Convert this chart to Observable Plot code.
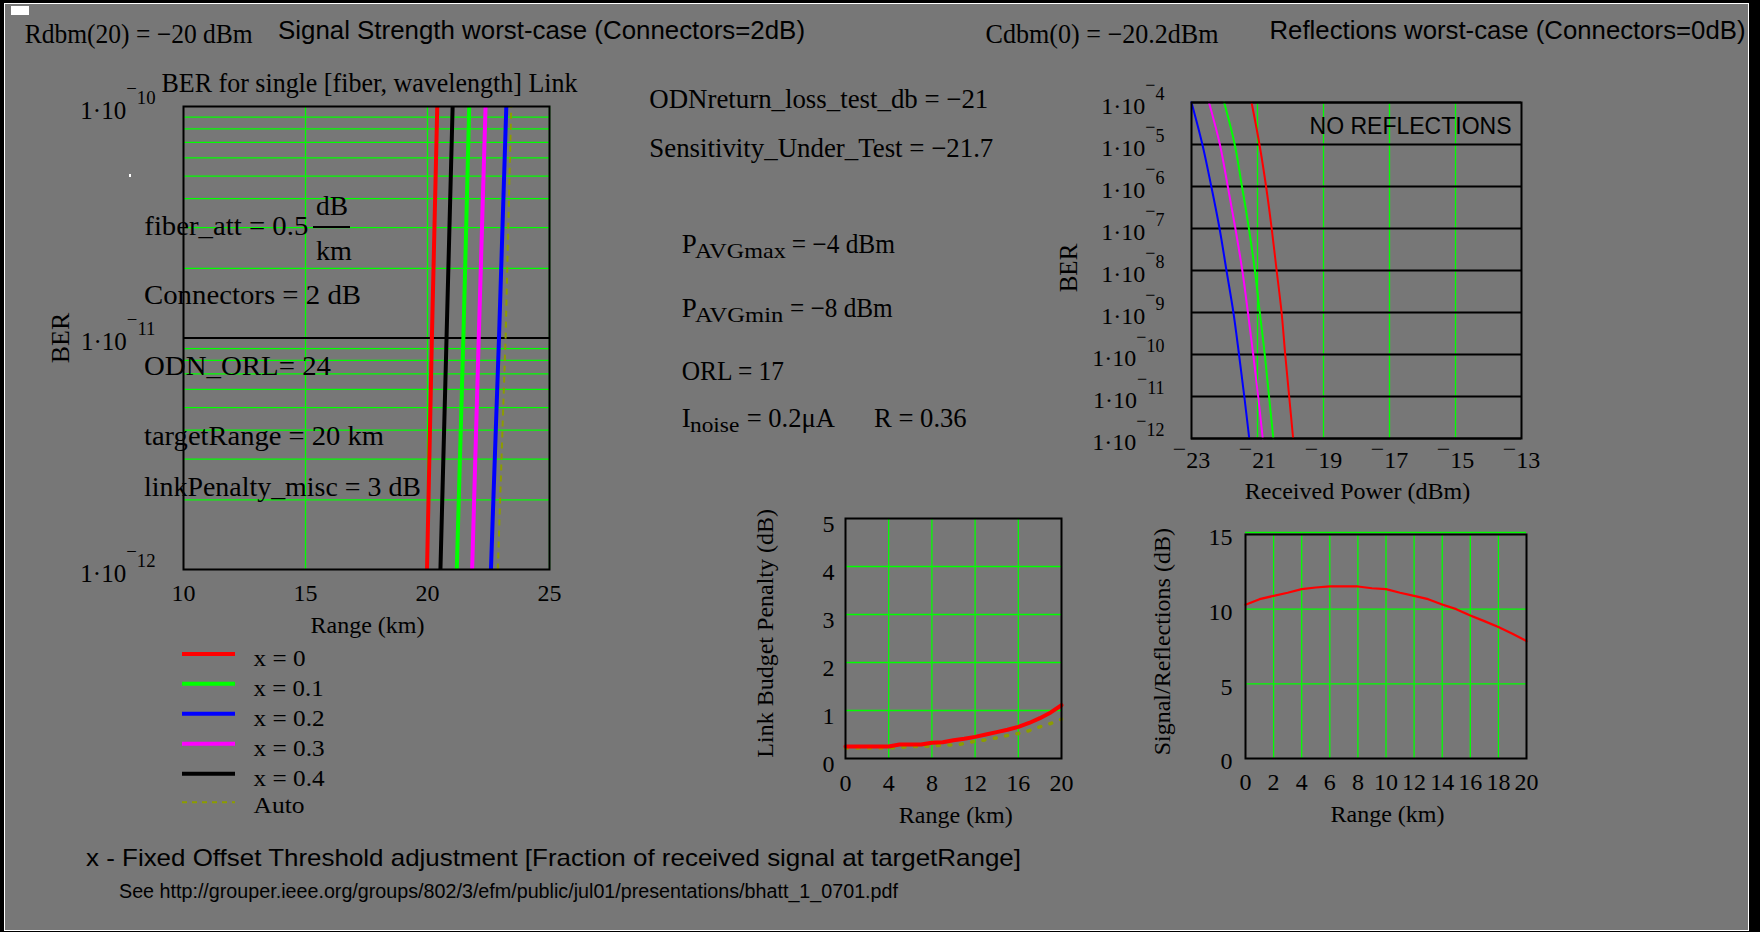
<!DOCTYPE html>
<html>
<head>
<meta charset="utf-8">
<script src="https://cdn.jsdelivr.net/npm/d3@7"></script>
<script src="https://cdn.jsdelivr.net/npm/@observablehq/plot@0.6"></script>
<style>
html, body { margin: 0; padding: 0; background: #000; width: 1760px; height: 932px; overflow: hidden; }
#page { position: absolute; left: 4px; top: 3px; width: 1745px; height: 928px; box-sizing: border-box; border: 1px solid #fff; background: #777777; }
.chart { position: absolute; }
.chart svg { display: block; overflow: visible; }
#overlay { position: absolute; left: 0; top: 0; }
</style>
</head>
<body>
<div id="page"></div>
<div id="c1" class="chart" style="left:40px;top:60px;width:540px;height:580px"></div>
<div id="c2" class="chart" style="left:1040px;top:80px;width:520px;height:420px"></div>
<div id="c3" class="chart" style="left:740px;top:490px;width:340px;height:350px"></div>
<div id="c4" class="chart" style="left:1140px;top:500px;width:420px;height:340px"></div>
<svg id="overlay" width="1760" height="932"></svg>
<script>
// ---------------- DATA ----------------
// Chart 1: BER for single [fiber, wavelength] link vs range (km)
const seriesNames = ["x = 0", "x = 0.1", "x = 0.2", "x = 0.3", "x = 0.4", "Auto"];
const berLevels = [1e-12, 1e-11, 1e-10];
const rangeX00 = [19.98, 20.18, 20.40];
const rangeX01 = [21.20, 21.47, 21.71];
const rangeX02 = [22.60, 22.93, 23.23];
const rangeX03 = [21.83, 22.10, 22.38];
const rangeX04 = [20.53, 20.78, 21.03];
const rangeAuto = [22.88, 23.20, 23.43];
const rangeTicks = [10, 15, 20, 25];
const rangeGrid = [15, 20, 25];
const berMinorGrid = [2e-12, 3e-12, 4e-12, 5e-12, 6e-12, 7e-12, 8e-12, 9e-12,
                      2e-11, 3e-11, 4e-11, 5e-11, 6e-11, 7e-11, 8e-11, 9e-11];
const berMajorGrid = [1e-11];

// Chart 2: BER vs received power (dBm), no reflections
const berDecades = [1e-4, 1e-5, 1e-6, 1e-7, 1e-8, 1e-9, 1e-10, 1e-11, 1e-12];
const powerX02 = [-23.00, -22.67, -22.40, -22.15, -21.94, -21.73, -21.56, -21.40, -21.25];
const powerX03 = [-22.47, -22.14, -21.90, -21.67, -21.46, -21.29, -21.13, -20.98, -20.84];
const powerX01 = [-22.01, -21.69, -21.47, -21.26, -21.08, -20.93, -20.78, -20.65, -20.52];
const powerX00 = [-21.18, -20.94, -20.74, -20.57, -20.42, -20.27, -20.16, -20.04, -19.92];
const powerTicks = [-23, -21, -19, -17, -15, -13];
const powerGrid = [-21, -19, -17, -15];

// Chart 3: Link budget penalty (dB) vs range (km)
const rangeKm = [0, 1, 2, 3, 4, 5, 6, 7, 8, 9, 10, 11, 12, 13, 14, 15, 16, 17, 18, 19, 20];
const penaltyX00 = [0.25, 0.25, 0.25, 0.25, 0.25, 0.29, 0.29, 0.29, 0.33, 0.34, 0.38, 0.41, 0.45, 0.50, 0.55, 0.60, 0.66, 0.74, 0.84, 0.96, 1.11];
const penaltyAuto = [0.22, 0.22, 0.22, 0.22, 0.22, 0.23, 0.25, 0.25, 0.26, 0.28, 0.28, 0.31, 0.36, 0.39, 0.43, 0.48, 0.52, 0.58, 0.66, 0.73, 0.82];
const penaltyXTicks = [0, 4, 8, 12, 16, 20];
const penaltyYTicks = [0, 1, 2, 3, 4, 5];

// Chart 4: Signal/Reflections (dB) vs range (km)
const signalRefl = [10.29, 10.67, 10.89, 11.10, 11.34, 11.45, 11.52, 11.52, 11.52, 11.40, 11.34, 11.10, 10.89, 10.67, 10.31, 10.00, 9.58, 9.20, 8.80, 8.35, 7.86];
const srXTicks = [0, 2, 4, 6, 8, 10, 12, 14, 16, 18, 20];
const srYTicks = [0, 5, 10, 15];

// ---------------- STYLE ----------------
const serif = "'Liberation Serif','Times New Roman',serif";
const sans = "'Liberation Sans',Arial,sans-serif";
const GRID = "#00ff00";
const OLIVE = "#8c9c00";
const colorX00 = "#ff0000", colorX01 = "#00ff00", colorX02 = "#0000ff", colorX03 = "#ff00ff", colorX04 = "#000000";
const baseStyle = (fs) => ({background: "transparent", color: "#000", fontFamily: serif, fontSize: fs + "px", overflow: "visible"});

function expLabel(d) {
  const e = Math.round(Math.log10(d));
  return "1·10^" + (e < 0 ? "−" + (-e) : String(e));
}
function negLabel(d) { return d < 0 ? "−" + (-d) : String(d); }

function fixTicks(svg, F) {
  d3.select(svg).selectAll("g[aria-label$='tick label'] text").each(function () {
    const s = this.textContent;
    const sel = d3.select(this);
    if (s.includes("^")) {
      const [b, e] = s.split("^");
      sel.text(null);
      sel.append("tspan").text(b);
      const es = 0.75 * F;
      if (e.startsWith("−")) {
        sel.append("tspan").attr("font-size", es).attr("dy", -0.95 * F).text("−");
        sel.append("tspan").attr("font-size", es).attr("dy", 0.35 * F).text(e.slice(1));
      } else {
        sel.append("tspan").attr("font-size", es).attr("dy", -0.6 * F).text(e);
      }
    } else if (s.startsWith("−")) {
      sel.text(null);
      sel.append("tspan").attr("dy", -0.42 * F).text("−");
      sel.append("tspan").attr("dy", 0.42 * F).text(s.slice(1));
    }
  });
}

// ---------------- CHART 1 ----------------
const c1Series = [
  {v: rangeX00, c: colorX00, w: 4},
  {v: rangeX01, c: colorX01, w: 4},
  {v: rangeX02, c: colorX02, w: 4},
  {v: rangeX03, c: colorX03, w: 4},
  {v: rangeX04, c: colorX04, w: 4},
  {v: rangeAuto, c: OLIVE, w: 2, dash: "6,5"}
];
const c1 = Plot.plot({
  width: 540, height: 580,
  marginLeft: 143, marginTop: 46, marginRight: 31, marginBottom: 71,
  style: baseStyle(25),
  x: {domain: [10, 25]},
  y: {type: "log", domain: [1e-12, 1e-10]},
  marks: [
    Plot.ruleY(berMinorGrid, {stroke: GRID, strokeWidth: 1.3}),
    Plot.ruleX(rangeGrid, {stroke: GRID, strokeWidth: 1.3}),
    Plot.ruleY(berMajorGrid, {stroke: "#000", strokeWidth: 2}),
    ...c1Series.map(s => Plot.line(berLevels, {
      x: (d, i) => s.v[i], y: d => d, stroke: s.c, strokeWidth: s.w,
      strokeDasharray: s.dash, strokeLinecap: "butt"
    })),
    Plot.frame({stroke: "#000", strokeWidth: 2}),
    Plot.axisX({ticks: rangeTicks, tickSize: 0, tickPadding: 14, tickFormat: d => String(d), fontSize: 24, label: null}),
    Plot.axisY({ticks: berLevels, tickSize: 0, tickPadding: 28, dy: 4, tickFormat: expLabel, fontSize: 25, label: null})
  ]
});
fixTicks(c1, 25);
document.getElementById("c1").append(c1);

// ---------------- CHART 2 ----------------
const c2Series = [
  {v: powerX02, c: colorX02},
  {v: powerX03, c: colorX03},
  {v: powerX01, c: colorX01},
  {v: powerX00, c: colorX00}
];
const c2 = Plot.plot({
  width: 520, height: 420,
  marginLeft: 151, marginTop: 22, marginRight: 39, marginBottom: 62,
  style: baseStyle(24),
  x: {domain: [-23, -13]},
  y: {type: "log", domain: [1e-12, 1e-4]},
  marks: [
    Plot.ruleX(powerGrid, {stroke: GRID, strokeWidth: 1.3}),
    Plot.ruleY(berDecades, {stroke: "#000", strokeWidth: 2}),
    ...c2Series.map(s => Plot.line(berDecades, {
      x: (d, i) => s.v[i], y: d => d, stroke: s.c, strokeWidth: 2, curve: "catmull-rom"
    })),
    Plot.frame({stroke: "#000", strokeWidth: 2}),
    Plot.text(["NO REFLECTIONS"], {text: d => d, frameAnchor: "top-right", dx: -10, dy: 24, lineAnchor: "middle",
      textAnchor: "end", fontFamily: sans, fontSize: 23, fill: "#000"}),
    Plot.axisX({ticks: powerTicks, tickSize: 0, tickPadding: 12, tickFormat: negLabel, fontSize: 24, label: null}),
    Plot.axisY({ticks: berDecades, tickSize: 0, tickPadding: 27, dy: 4, tickFormat: expLabel, fontSize: 24, label: null})
  ]
});
fixTicks(c2, 24);
document.getElementById("c2").append(c2);

// ---------------- CHART 3 ----------------
const c3 = Plot.plot({
  width: 340, height: 350,
  marginLeft: 105, marginTop: 28, marginRight: 19, marginBottom: 82,
  style: baseStyle(24),
  x: {domain: [0, 20]},
  y: {domain: [0, 5]},
  marks: [
    Plot.ruleX(penaltyXTicks.slice(1, -1), {stroke: GRID, strokeWidth: 1.3}),
    Plot.ruleY(penaltyYTicks.slice(1, -1), {stroke: GRID, strokeWidth: 1.3}),
    Plot.line(rangeKm, {x: d => d, y: (d, i) => penaltyAuto[i], stroke: OLIVE, strokeWidth: 3.5,
      strokeDasharray: "2,9.5", strokeLinecap: "round"}),
    Plot.line(rangeKm, {x: d => d, y: (d, i) => penaltyX00[i], stroke: colorX00, strokeWidth: 4}),
    Plot.frame({stroke: "#000", strokeWidth: 2}),
    Plot.axisX({ticks: penaltyXTicks, tickSize: 0, tickPadding: 15, tickFormat: d => String(d), fontSize: 24, label: null}),
    Plot.axisY({ticks: penaltyYTicks, tickSize: 0, tickPadding: 11, dy: 6, tickFormat: d => String(d), fontSize: 24, label: null})
  ]
});
document.getElementById("c3").append(c3);

// ---------------- CHART 4 ----------------
const c4 = Plot.plot({
  width: 420, height: 340,
  marginLeft: 105, marginTop: 34, marginRight: 34, marginBottom: 82,
  style: baseStyle(24),
  x: {domain: [0, 20]},
  y: {domain: [0, 15]},
  marks: [
    Plot.ruleX(srXTicks.slice(1, -1), {stroke: GRID, strokeWidth: 1.3}),
    Plot.ruleY(srYTicks.slice(1, -1), {stroke: GRID, strokeWidth: 1.3}),
    Plot.ruleY(srYTicks.slice(-1), {stroke: GRID, strokeWidth: 1.3, dy: -2}),
    Plot.line(rangeKm, {x: d => d, y: (d, i) => signalRefl[i], stroke: colorX00, strokeWidth: 2.2}),
    Plot.frame({stroke: "#000", strokeWidth: 2}),
    Plot.axisX({ticks: srXTicks, tickSize: 0, tickPadding: 14, tickFormat: d => String(d), fontSize: 24, label: null}),
    Plot.axisY({ticks: srYTicks, tickSize: 0, tickPadding: 13, dy: 3, tickFormat: d => String(d), fontSize: 24, label: null})
  ]
});
document.getElementById("c4").append(c4);

// ---------------- ANNOTATIONS ----------------
const ov = d3.select("#overlay");
function T(t, x, y, o = {}) {
  const el = ov.append("text").attr("x", x).attr("y", y).text(t)
    .attr("font-family", o.f || serif).attr("font-size", o.s || 27).attr("fill", "#000");
  if (o.len) el.attr("textLength", o.len).attr("lengthAdjust", "spacingAndGlyphs");
  if (o.anchor) el.attr("text-anchor", o.anchor);
  if (o.rot) el.attr("transform", `rotate(-90 ${x} ${y})`);
  return el;
}
ov.append("rect").attr("x", 11).attr("y", 6).attr("width", 18).attr("height", 9).attr("fill", "#fff");
ov.append("rect").attr("x", 129).attr("y", 174).attr("width", 2).attr("height", 3).attr("fill", "#fff");

T("Rdbm(20) = −20 dBm", 24.7, 43, {len: 228});
T("Signal Strength worst-case (Connectors=2dB)", 278, 38.5, {f: sans, s: 26, len: 527});
T("Cdbm(0) = −20.2dBm", 985.5, 43, {len: 233});
T("Reflections worst-case (Connectors=0dB)", 1269.5, 38.5, {f: sans, s: 26, len: 476});
T("BER for single [fiber, wavelength] Link", 161.5, 91.7, {len: 416});

T("fiber_att = 0.5", 144.3, 235, {len: 164});
T("dB", 316, 215, {len: 32});
ov.append("line").attr("x1", 313).attr("x2", 350).attr("y1", 227).attr("y2", 227).attr("stroke", "#000").attr("stroke-width", 2);
T("km", 316, 260, {len: 36});
T("Connectors = 2 dB", 144, 304, {len: 217});
T("ODN_ORL= 24", 144, 375, {len: 187});
T("targetRange = 20 km", 144, 445, {len: 240});
T("linkPenalty_misc = 3 dB", 144, 496, {len: 277});

T("ODNreturn_loss_test_db = −21", 649.3, 108.3, {len: 339});
T("Sensitivity_Under_Test = −21.7", 649.3, 156.7, {len: 344});
T("P", 681.7, 252.7);
T("AVGmax", 695, 258.3, {s: 21, len: 90.7});
T("= −4 dBm", 791.7, 252.7, {len: 103.3});
T("P", 681.7, 316.7);
T("AVGmin", 695, 321.7, {s: 21, len: 88.3});
T("= −8 dBm", 790, 316.7, {len: 102.7});
T("ORL = 17", 681.7, 380, {len: 102.3});
T("I", 681.7, 427);
T("noise", 690, 432, {s: 21, len: 49.3});
T("= 0.2μA", 746.7, 427, {len: 88.3});
T("R = 0.36", 874, 427, {len: 92.7});

// axis titles
T("BER", 69, 338, {s: 26, anchor: "middle", rot: true});
T("Range (km)", 367.5, 633, {s: 24, anchor: "middle"});
T("BER", 1077, 268, {s: 25, anchor: "middle", rot: true});
T("Received Power (dBm)", 1357.5, 499, {s: 24, anchor: "middle"});
T("Link Budget Penalty (dB)", 773, 633.3, {s: 24, anchor: "middle", rot: true});
T("Range (km)", 955.8, 822.7, {s: 24, anchor: "middle"});
T("Signal/Reflections (dB)", 1170, 641.7, {s: 24, anchor: "middle", rot: true});
T("Range (km)", 1387.5, 821.7, {s: 24, anchor: "middle"});

// legend
const legendColors = [colorX00, colorX01, colorX02, colorX03, colorX04, OLIVE];
const legendY = [654, 683.7, 713.7, 743.7, 773.7, 802.3];
const legendLen = [52, 70, 71, 71, 71, 51];
seriesNames.forEach((name, i) => {
  const isAuto = name === "Auto";
  ov.append("line").attr("x1", 182).attr("x2", 235).attr("y1", legendY[i]).attr("y2", legendY[i])
    .attr("stroke", legendColors[i]).attr("stroke-width", isAuto ? 2 : 4)
    .attr("stroke-dasharray", isAuto ? "5,5" : null);
  T(name, 253.6, legendY[i] + (isAuto ? 11 : 12), {s: 23, len: legendLen[i]});
});

T("x - Fixed Offset Threshold adjustment [Fraction of received signal at targetRange]", 86, 866, {f: sans, s: 24, len: 935});
T("See http://grouper.ieee.org/groups/802/3/efm/public/jul01/presentations/bhatt_1_0701.pdf", 119, 898, {f: sans, s: 20, len: 779});
</script>
</body>
</html>
